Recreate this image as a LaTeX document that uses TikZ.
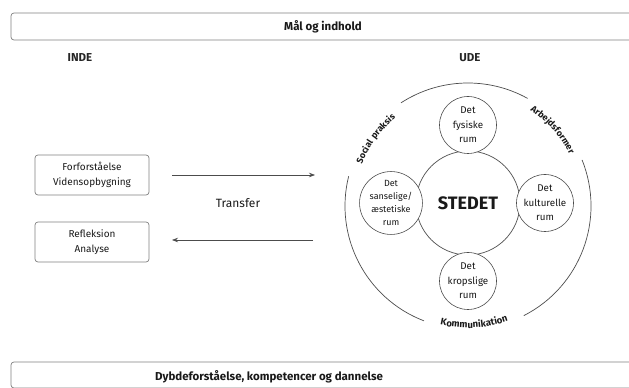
\documentclass[tikz,border=0pt]{standalone}
\usepackage{fontspec}
\setmainfont{Fira Sans}
\newfontfamily\arcfont[LetterSpace=12]{Fira Sans}
\usetikzlibrary{arrows.meta,decorations.text}
\begin{document}
\begin{tikzpicture}[x=1pt,y=1pt,
  band/.style={draw=black!50, line width=0.7pt, rounded corners=3pt, fill=white},
  bandtext/.style={font=\bfseries\fontsize{11.5}{11.5}\selectfont, text=black!90},
  head/.style={font=\bfseries\fontsize{11.5}{11.5}\selectfont, text=black!85},
  lbox/.style={draw=black!50, line width=0.7pt, rounded corners=3pt, minimum width=114pt, minimum height=40pt, align=center, font=\fontsize{10}{15}\selectfont, text=black!90},
  rumcirc/.style={circle, draw=black!70, line width=0.6pt, fill=white, minimum size=57pt, inner sep=0pt, align=center, font=\fontsize{9.8}{14.5}\selectfont, text=black!90},
  ring/.style={draw=black!70, line width=0.7pt},
  flow/.style={draw=black!70, line width=0.7pt, -{Stealth[length=6pt,width=4.5pt]}},
  arclabel/.style={decorate, decoration={text along path, text align=center, text color=black!90}}
]
\useasboundingbox (0,0) rectangle (629,388);

% bands
\node[band, minimum width=634pt, minimum height=27pt, inner sep=0pt] (topband) at (328,361.5) {};
\node[bandtext] (goal) at (323,361) {Mål og indhold};
\node[band, minimum width=634pt, minimum height=26pt, inner sep=0pt] (botband) at (328,13) {};
\node[bandtext] (result) at (269,11.5) {Dybdeforståelse, kompetencer og dannelse};

% headings
\node[head] (inde) at (80,330) {INDE};
\node[head] (ude) at (470,330) {UDE};

% left boxes
\node[lbox] (pre) at (92,213) {Forforståelse\\Vidensopbygning};
\node[lbox] (ref) at (92,146) {Refleksion\\Analyse};

% arrows
\coordinate (a1s) at (172,213);
\coordinate (a1e) at (315,213);
\coordinate (a2s) at (313,148);
\coordinate (a2e) at (172,148);
\draw[flow] (a1s) -- (a1e);
\draw[flow] (a2s) -- (a2e);
\node[font=\fontsize{12}{12}\selectfont, text=black!90] (transfer) at (238,185) {Transfer};

% big ring with gaps
\coordinate (C) at (468,182);
\draw[ring] (C) ++(166:123) arc[start angle=166, end angle=249, radius=123];
\draw[ring] (C) ++(297:123) arc[start angle=297, end angle=382, radius=123];
\draw[ring] (C) ++(61:123) arc[start angle=61, end angle=123, radius=123];

\path[arclabel, decoration={text={|\arcfont\bfseries\fontsize{9}{9}\selectfont|Social praksis}}]
  (C) ++(172:114) arc[start angle=172, end angle=116, radius=114];
\path[arclabel, decoration={text={|\arcfont\bfseries\fontsize{9}{9}\selectfont|Arbejdsformer}}]
  (C) ++(70:114) arc[start angle=70, end angle=14, radius=114];
\path[arclabel, decoration={text={|\arcfont\bfseries\fontsize{9.5}{9.5}\selectfont|Kommunikation}}]
  (C) ++(238:122) arc[start angle=238, end angle=308, radius=122];

% centre and rooms
\node[circle, draw=black!70, line width=0.7pt, minimum size=104pt, inner sep=0pt,
      font=\bfseries\fontsize{18}{18}\selectfont, text=black!90] (stedet) at (468,185) {STEDET};
\node[rumcirc] (fys) at (468,263) {Det\\fysiske\\rum};
\node[rumcirc] (kul) at (545,185) {Det\\kulturelle\\rum};
\node[rumcirc] (krop) at (468,107) {Det\\kropslige\\rum};
\node[rumcirc, font=\fontsize{9}{13.3}\selectfont] (san) at (391,185) {Det\\sanselige/\\æstetiske\\rum};
\end{tikzpicture}
\end{document}
